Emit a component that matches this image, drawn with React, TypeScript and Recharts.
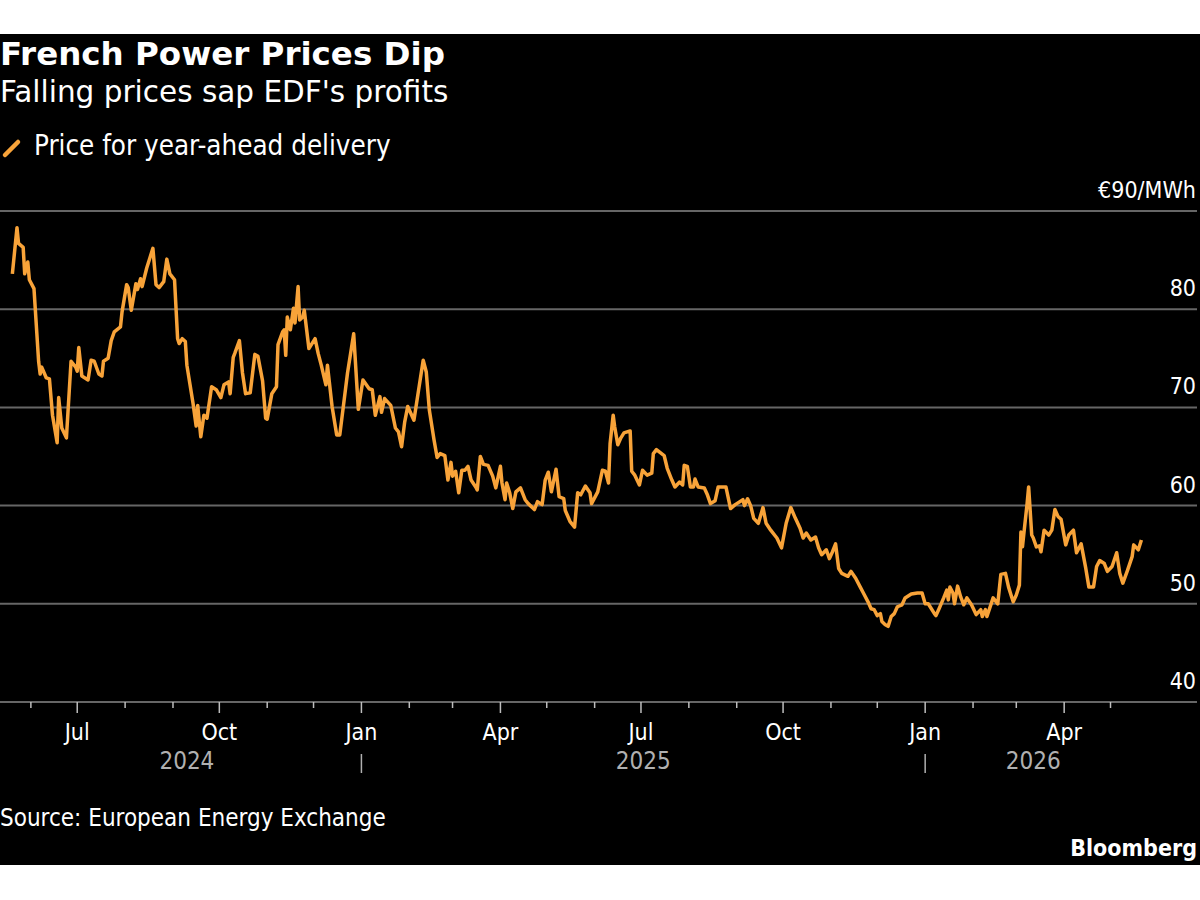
import { LineChart, Line, XAxis, YAxis, CartesianGrid } from "recharts";

// Year-ahead French baseload power, EEX settlement (EUR/MWh)
const dates = [
  "2024-05-20", "2024-05-23", "2024-05-24", "2024-05-27", "2024-05-28", "2024-05-30", "2024-05-31",
  "2024-06-03", "2024-06-06", "2024-06-07", "2024-06-08", "2024-06-11", "2024-06-13", "2024-06-15",
  "2024-06-18", "2024-06-19", "2024-06-21", "2024-06-24", "2024-06-27", "2024-06-30",
  "2024-07-01", "2024-07-02", "2024-07-04", "2024-07-08", "2024-07-10", "2024-07-12", "2024-07-15",
  "2024-07-17", "2024-07-18", "2024-07-21", "2024-07-23", "2024-07-25", "2024-07-29", "2024-07-30",
  "2024-08-02", "2024-08-03", "2024-08-05", "2024-08-08", "2024-08-09", "2024-08-11", "2024-08-12",
  "2024-08-15", "2024-08-19", "2024-08-21", "2024-08-23", "2024-08-26", "2024-08-28", "2024-08-30",
  "2024-09-02", "2024-09-04", "2024-09-05", "2024-09-07", "2024-09-09", "2024-09-10", "2024-09-14",
  "2024-09-16", "2024-09-17", "2024-09-19", "2024-09-21", "2024-09-23", "2024-09-26", "2024-09-29",
  "2024-10-02", "2024-10-04", "2024-10-07", "2024-10-08", "2024-10-10", "2024-10-11", "2024-10-14",
  "2024-10-16", "2024-10-18", "2024-10-21", "2024-10-24", "2024-10-26", "2024-10-29", "2024-10-31",
  "2024-11-01", "2024-11-04", "2024-11-07", "2024-11-08", "2024-11-11", "2024-11-12", "2024-11-13",
  "2024-11-14", "2024-11-16", "2024-11-18", "2024-11-19", "2024-11-21", "2024-11-22", "2024-11-24",
  "2024-11-25", "2024-11-28", "2024-11-30", "2024-12-02", "2024-12-04", "2024-12-06", "2024-12-09",
  "2024-12-10", "2024-12-13", "2024-12-16", "2024-12-18", "2024-12-23", "2024-12-27", "2024-12-30",
  "2025-01-02", "2025-01-06", "2025-01-08", "2025-01-10", "2025-01-13", "2025-01-14", "2025-01-16",
  "2025-01-20", "2025-01-23", "2025-01-25", "2025-01-27", "2025-01-29", "2025-01-31", "2025-02-04",
  "2025-02-10", "2025-02-12", "2025-02-14", "2025-02-17", "2025-02-19", "2025-02-21", "2025-02-24",
  "2025-02-26", "2025-02-28", "2025-03-01", "2025-03-03", "2025-03-05", "2025-03-07", "2025-03-09",
  "2025-03-11", "2025-03-13", "2025-03-16", "2025-03-17", "2025-03-19", "2025-03-21", "2025-03-24",
  "2025-03-27", "2025-03-29", "2025-04-01", "2025-04-02", "2025-04-04", "2025-04-05", "2025-04-07",
  "2025-04-09", "2025-04-11", "2025-04-14", "2025-04-17", "2025-04-19", "2025-04-23", "2025-04-25",
  "2025-04-28", "2025-04-30", "2025-05-02", "2025-05-04", "2025-05-07", "2025-05-09", "2025-05-12",
  "2025-05-13", "2025-05-16", "2025-05-19", "2025-05-21", "2025-05-23", "2025-05-26", "2025-05-29",
  "2025-05-30", "2025-06-03", "2025-06-06", "2025-06-08", "2025-06-10", "2025-06-11", "2025-06-13",
  "2025-06-14", "2025-06-16", "2025-06-18", "2025-06-20", "2025-06-22", "2025-06-24", "2025-06-25",
  "2025-06-27", "2025-06-30", "2025-07-02", "2025-07-05", "2025-07-08", "2025-07-09", "2025-07-11",
  "2025-07-16", "2025-07-18", "2025-07-21", "2025-07-23", "2025-07-26", "2025-07-28", "2025-07-29",
  "2025-07-31", "2025-08-02", "2025-08-04", "2025-08-05", "2025-08-07", "2025-08-11", "2025-08-13",
  "2025-08-15", "2025-08-18", "2025-08-20", "2025-08-25", "2025-08-28", "2025-08-31", "2025-09-05",
  "2025-09-06", "2025-09-08", "2025-09-10", "2025-09-12", "2025-09-15", "2025-09-18", "2025-09-20",
  "2025-09-23", "2025-09-27", "2025-09-30", "2025-10-03", "2025-10-06", "2025-10-09", "2025-10-12",
  "2025-10-14", "2025-10-16", "2025-10-19", "2025-10-22", "2025-10-24", "2025-10-26", "2025-10-29",
  "2025-10-31", "2025-11-02", "2025-11-04", "2025-11-06", "2025-11-08", "2025-11-12", "2025-11-14",
  "2025-11-17", "2025-11-20", "2025-11-22", "2025-11-25", "2025-11-27", "2025-11-29", "2025-12-01",
  "2025-12-03", "2025-12-04", "2025-12-06", "2025-12-08", "2025-12-10", "2025-12-12", "2025-12-14",
  "2025-12-17", "2025-12-19", "2025-12-23", "2025-12-27", "2025-12-30",
  "2026-01-01", "2026-01-03", "2026-01-07", "2026-01-08", "2026-01-10", "2026-01-13", "2026-01-15",
  "2026-01-16", "2026-01-17", "2026-01-19", "2026-01-20", "2026-01-22", "2026-01-24", "2026-01-26",
  "2026-01-28", "2026-01-31", "2026-02-03", "2026-02-06", "2026-02-07", "2026-02-09", "2026-02-10",
  "2026-02-14", "2026-02-16", "2026-02-17", "2026-02-19", "2026-02-22", "2026-02-24", "2026-02-26",
  "2026-02-27", "2026-03-01", "2026-03-03", "2026-03-04", "2026-03-05", "2026-03-06", "2026-03-08",
  "2026-03-09", "2026-03-11", "2026-03-12", "2026-03-14", "2026-03-16", "2026-03-17", "2026-03-19",
  "2026-03-22", "2026-03-24", "2026-03-26", "2026-03-28", "2026-03-30", "2026-04-02", "2026-04-04",
  "2026-04-07", "2026-04-09", "2026-04-12", "2026-04-15", "2026-04-17", "2026-04-20", "2026-04-22",
  "2026-04-24", "2026-04-27", "2026-04-29", "2026-05-02", "2026-05-05", "2026-05-07", "2026-05-09",
  "2026-05-12", "2026-05-15", "2026-05-16", "2026-05-19", "2026-05-21",
];

const prices = [
  83.6, 88.3, 86.7, 86.3, 83.6, 84.8, 83.0,
  82.1, 74.7, 73.4, 74.1, 73.0, 72.9, 69.2,
  66.4, 71.0, 67.9, 66.9, 74.7, 74.1,
  73.7, 76.1, 73.2, 72.8, 74.8, 74.7, 73.4,
  73.2, 74.7, 75.0, 76.8, 77.7, 78.2, 79.7,
  82.5, 82.2, 79.9, 82.6, 82.0, 83.1, 82.3,
  84.2, 86.2, 82.5, 82.2, 82.8, 85.1, 83.6,
  83.0, 77.0, 76.5, 77.0, 76.7, 74.3, 70.4,
  68.1, 70.2, 67.0, 69.2, 68.9, 72.1, 71.8,
  71.0, 72.3, 72.6, 71.4, 75.1, 75.5, 76.8,
  73.5, 71.4, 71.5, 75.4, 75.2, 72.7, 68.9,
  68.8, 71.4, 72.1, 76.4, 77.7, 77.9, 75.3,
  79.2, 77.9, 80.1, 78.6, 82.3, 78.9, 79.2,
  79.9, 76.0, 76.5, 77.0, 75.5, 74.3, 72.3,
  74.3, 70.1, 67.2, 67.2, 73.5, 77.5, 69.8,
  72.8, 71.9, 71.8, 69.2, 71.1, 69.5, 70.9,
  70.2, 67.9, 67.5, 66.0, 68.5, 70.1, 68.7,
  74.8, 73.6, 69.7, 66.7, 64.9, 65.3, 65.1,
  62.6, 64.4, 63.0, 63.5, 61.3, 63.6, 63.6,
  64.0, 62.6, 61.9, 61.6, 65.0, 64.2, 64.1,
  63.0, 61.8, 64.0, 62.3, 60.6, 62.3, 61.3,
  59.7, 61.4, 61.8, 60.6, 60.2, 59.6, 60.4,
  60.1, 62.6, 63.4, 61.4, 63.7, 60.9, 60.7,
  59.5, 58.4, 57.8, 61.3, 61.1, 62.0, 61.3,
  60.2, 61.4, 63.6, 63.5, 62.3, 66.3, 69.2,
  68.0, 66.2, 66.9, 67.4, 67.5, 67.6, 63.5,
  63.1, 62.1, 63.6, 63.1, 63.3, 65.3, 65.7,
  65.1, 63.8, 62.6, 61.9, 62.4, 62.1, 64.1,
  64.0, 61.9, 61.9, 62.7, 61.9, 61.8, 61.1,
  60.2, 60.5, 61.9, 61.9, 59.7, 60.1, 60.6,
  60.0, 60.7, 60.0, 58.7, 58.2, 59.8, 58.2,
  57.5, 56.7, 55.7, 58.2, 59.8, 58.7, 57.7,
  56.7, 57.2, 56.5, 56.8, 55.7, 55.0, 55.5,
  54.6, 55.3, 56.1, 53.6, 53.1, 52.8, 53.3,
  52.6, 51.7, 51.1, 50.2, 49.5, 49.4, 48.8,
  49.0, 48.2, 47.9, 47.7, 48.7, 49.0, 49.7,
  49.9, 50.6, 51.0, 51.1, 51.1,
  50.0, 50.0, 49.0, 48.8, 49.5, 50.6, 51.4,
  50.4, 51.7, 51.1, 50.0, 51.8, 50.7, 49.9,
  50.6, 49.9, 48.9, 49.4, 48.7, 49.4, 48.7,
  50.6, 50.2, 50.0, 53.0, 53.1, 51.7, 50.7,
  50.2, 50.9, 51.9, 57.3, 55.8, 57.3, 60.2,
  61.9, 57.0, 56.7, 55.8, 55.9, 55.3, 57.5,
  57.0, 57.5, 59.6, 58.9, 58.6, 56.0, 57.0,
  57.5, 55.2, 56.1, 53.6, 51.7, 51.7, 53.8,
  54.4, 54.1, 53.3, 53.8, 55.2, 53.1, 52.1,
  53.4, 54.8, 56.0, 55.5, 56.5,
];

const yTicks = [40, 50, 60, 70, 80, 90];
const monthNames = ["Jan", "Apr", "Jul", "Oct"];
const yearLabels = ["2024", "2025", "2026"];
const axisStart = "2024-05-12";
const axisEnd = "2026-06-26";

const ORANGE = "#f8a339";
const GRID = "#666666";
const WIDE = "'DejaVu Sans', sans-serif";
const NARROW = "'DejaVu Sans Condensed', 'DejaVu Sans', sans-serif";

const toTime = (d: string) => Date.parse(d + "T00:00:00Z");

const data = dates.map((d, i) => ({ t: toTime(d), price: prices[i] }));
const firstT = data[0].t;
const lastT = data[data.length - 1].t;

// monthly ticks, Jun 2024 through May 2026
const monthTicks = Array.from({ length: 24 }, (_, k) => Date.UTC(2024, 5 + k, 1));

// each year label sits in the middle of the span of that year that has data
const yearMids = yearLabels.map((y) => {
  const s = Math.max(Date.UTC(+y, 0, 1), firstT);
  const e = Math.min(Date.UTC(+y + 1, 0, 1), lastT);
  return (s + e) / 2;
});

function DateTick(props: any) {
  const { x, y, payload } = props;
  const v = payload.value;
  const yi = yearMids.indexOf(v);
  if (yi >= 0) {
    return (
      <text x={x} y={y + 67} textAnchor="middle" fill="#b0b0b0" fontSize={24} fontFamily={NARROW} fontStretch="condensed">
        {yearLabels[yi]}
      </text>
    );
  }
  const m = new Date(v).getUTCMonth();
  const major = m % 3 === 0;
  return (
    <g>
      <line x1={x} x2={x} y1={y} y2={y + (major ? 11 : 6)} stroke="#bdbdbd" strokeWidth={1.5} />
      {major && (
        <text x={x} y={y + 38} textAnchor="middle" fill="#ffffff" fontSize={23} fontFamily={NARROW} fontStretch="condensed">
          {monthNames[m / 3]}
        </text>
      )}
      {m === 0 && (
        <line x1={x} x2={x} y1={y + 52} y2={y + 71} stroke="#b0b0b0" strokeWidth={1.5} />
      )}
    </g>
  );
}

function PriceTick(props: any) {
  const { y, payload } = props;
  const label = payload.value === 90 ? "€90/MWh" : String(payload.value);
  return (
    <text x={1196} y={y - 13} textAnchor="end" fill="#ffffff" fontSize={23} fontFamily={NARROW} fontStretch="condensed">
      {label}
    </text>
  );
}

export default function App() {
  return (
    <div style={{ position: "relative", width: 1200, height: 900, background: "#fff" }}>
      <style>{"body{margin:0}"}</style>
      <div style={{ position: "absolute", left: 0, top: 34, width: 1200, height: 831, background: "#000" }} />
      <svg width={1200} height={900} style={{ position: "absolute", left: 0, top: 0 }}>
        <text x={0} y={65} fill="#fff" fontSize={32.5} fontWeight={700} fontFamily={WIDE}>
          French Power Prices Dip
        </text>
        <text x={0} y={102} fill="#fff" fontSize={29.5} fontFamily={WIDE}>
          Falling prices sap EDF's profits
        </text>
        <line x1={5} y1={155} x2={18} y2={142} stroke={ORANGE} strokeWidth={4.5} strokeLinecap="round" />
        <text x={34} y={155} fill="#fff" fontSize={27.5} fontFamily={NARROW} fontStretch="condensed">
          Price for year-ahead delivery
        </text>
        <text x={0} y={826} fill="#fff" fontSize={24} fontFamily={NARROW} fontStretch="condensed">
          Source: European Energy Exchange
        </text>
        <text
          x={1197}
          y={856}
          fill="#fff"
          fontSize={23}
          fontWeight={700}
          textAnchor="end"
          fontFamily={NARROW}
          fontStretch="condensed"
        >
          Bloomberg
        </text>
      </svg>
      <div style={{ position: "absolute", left: 0, top: 170 }}>
        <LineChart width={1200} height={620} data={data} margin={{ top: 41, right: 3, bottom: 0, left: 0 }}>
          <CartesianGrid horizontal vertical={false} stroke={GRID} strokeWidth={2} />
          <XAxis
            dataKey="t"
            type="number"
            domain={[toTime(axisStart), toTime(axisEnd)]}
            ticks={[...monthTicks, ...yearMids]}
            interval={0}
            height={88}
            tickSize={0}
            tickMargin={0}
            tickLine={false}
            axisLine={{ stroke: GRID, strokeWidth: 2 }}
            tick={<DateTick />}
          />
          <YAxis
            orientation="right"
            mirror
            domain={[40, 90]}
            ticks={yTicks}
            interval={0}
            width={60}
            tickSize={0}
            tickMargin={0}
            axisLine={false}
            tickLine={false}
            tick={<PriceTick />}
          />
          <Line
            type="linear"
            dataKey="price"
            stroke={ORANGE}
            strokeWidth={3.5}
            strokeLinejoin="round"
            dot={false}
            isAnimationActive={false}
          />
        </LineChart>
      </div>
    </div>
  );
}
